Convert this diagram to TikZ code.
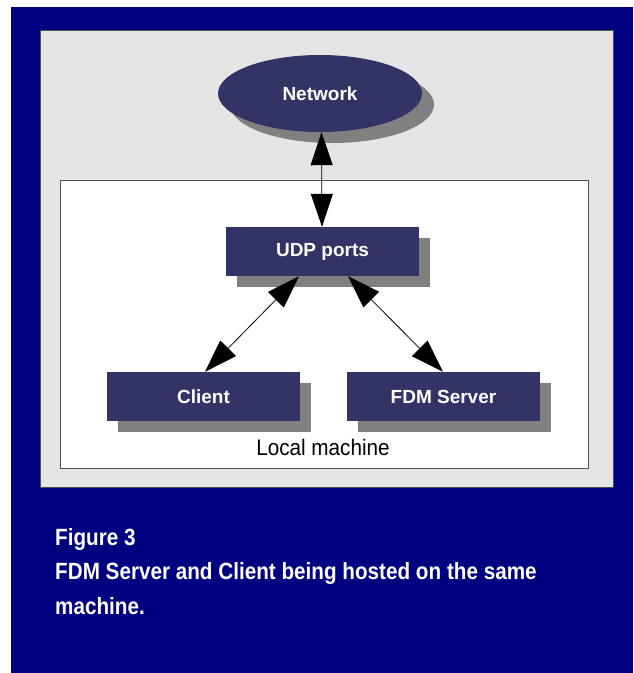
\documentclass[tikz,border=0pt]{standalone}
\usepackage{fontspec}
\setmainfont{Liberation Sans}
\newfontfamily\capfont[FakeStretch=0.88]{Liberation Sans Bold}
\newfontfamily\locfont[FakeStretch=0.92]{Liberation Sans}
\usetikzlibrary{arrows.meta,shapes.geometric,shadows}
\definecolor{navybg}{HTML}{000080}
\definecolor{nodefill}{HTML}{333366}
\definecolor{panelgray}{HTML}{E5E5E5}
\definecolor{shadowgray}{HTML}{808080}
\definecolor{edgegray}{HTML}{505050}
\tikzset{
  boxshadow/.style={general shadow={shadow xshift=11pt,shadow yshift=-11pt,fill=shadowgray}},
  procbox/.style={rectangle,fill=nodefill,draw=none,minimum width=193pt,minimum height=49pt,inner sep=0pt,
    text=white,font=\bfseries\fontsize{19}{19}\selectfont,boxshadow},
  netnode/.style={ellipse,fill=nodefill,draw=none,minimum width=204pt,minimum height=77pt,inner sep=0pt,
    text=white,font=\bfseries\fontsize{19}{19}\selectfont,
    general shadow={shadow xshift=12pt,shadow yshift=-11pt,fill=shadowgray}},
  biarrow/.style={{Triangle[length=33pt,width=22pt]}-{Triangle[length=33pt,width=22pt]},line width=0.8pt,black},
  captext/.style={anchor=base west,text=white,inner sep=0pt,font=\capfont\fontsize{23.5}{23.5}\selectfont},
}
\begin{document}
\begin{tikzpicture}[x=1pt,y=-1pt]
\useasboundingbox (0,0) rectangle (633,673);
% background
\fill[navybg] (11,7) rectangle (633,673);
\draw[fill=panelgray,draw=edgegray,line width=1pt] (40,30) rectangle (613,487);
\draw[fill=white,draw=edgegray,line width=0.8pt] (60,180) rectangle (588,468);
% nodes
\node[netnode] (net) at (320,93.5) {Network};
\node[procbox] (udp) at (322.5,251.5) {UDP ports};
\node[procbox] (client) at (203.5,396.5) {Client};
\node[procbox] (fdm) at (443.5,396.5) {FDM Server};
\node[anchor=base,inner sep=0pt,font=\locfont\fontsize{22.5}{22.5}\selectfont] (loc) at (323,455) {Local machine};
% connectors
\draw[biarrow] ([xshift=1.5pt]net.south) -- ([xshift=-0.5pt]udp.north);
\draw[biarrow] ([xshift=-23.5pt]udp.south) -- ([xshift=1.5pt]client.north);
\draw[biarrow] ([xshift=25.5pt]udp.south) -- ([xshift=-0.5pt]fdm.north);
% caption
\node[captext] (cap1) at (55,545) {Figure 3};
\node[captext] (cap2) at (55,579) {FDM Server and Client being hosted on the same};
\node[captext] (cap3) at (55,614) {machine.};
\end{tikzpicture}
\end{document}
